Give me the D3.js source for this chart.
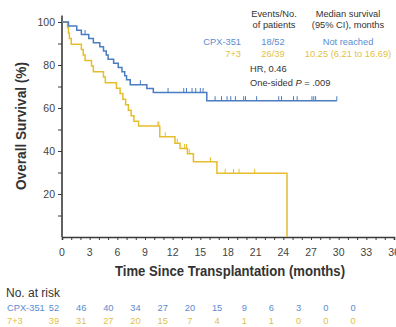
<!DOCTYPE html>
<html>
<head>
<meta charset="utf-8">
<script src="https://cdn.jsdelivr.net/npm/d3@7"></script>
<style>
  body { margin: 0; background: #fff; }
  svg text { font-family: "Liberation Sans", Arial, sans-serif; }
</style>
</head>
<body>
<div id="chart"></div>
<script>
//Colores
const COLOR_CPX = '#4a7cc2',
COLOR_73 = '#e6bd2a',
COLOR_TXT_CPX = '#5b8bd0',
COLOR_TXT_73 = '#e2bf45',
COLOR_AXIS = '#3a3a3a';

//Datos: curva CPX-351
let cpxTimes = [0, 0.7, 1.6, 2.1, 2.9, 3.4, 4.1, 4.5, 4.8, 5.0, 5.6, 6.1, 6.5, 6.8, 7.0, 7.4, 9.2, 9.9, 15.7];
let cpxSurv = [100, 98.1, 96.2, 94.2, 92.3, 90.4, 88.5, 86.5, 84.6, 82.7, 80.8, 78.8, 76.9, 75.0, 73.1, 70.8, 69.1, 67.2, 63.4];
let cpxEnd = 29.8;
let cpxCensor = [2.5, 8.5, 11.5, 13.2, 13.5, 14.1, 14.5, 15.0, 15.3, 16.6, 17.3, 17.9, 18.3, 18.8, 19.7, 19.9, 21.1, 23.5, 23.8, 25.1, 25.5, 27.1, 27.3, 27.5, 29.8];

//Datos: curva 7+3
let chemoTimes = [0, 0.6, 0.7, 0.8, 1.0, 2.1, 2.3, 2.5, 3.2, 3.4, 4.5, 4.7, 5.9, 6.3, 6.6, 6.9, 7.2, 7.5, 7.8, 8.3, 10.6, 12.25, 12.8, 13.6, 14.25, 16.8, 24.4];
let chemoSurv = [100, 97.4, 94.9, 92.3, 89.7, 87.2, 84.6, 82.1, 79.5, 76.9, 74.4, 71.8, 69.2, 66.7, 64.1, 61.5, 59.0, 56.4, 53.8, 51.6, 46.6, 43.6, 41.2, 38.7, 35.0, 29.6, 0];
let chemoEnd = 24.4;
let chemoCensor = [10.4, 10.5, 11.2, 12.5, 13.3, 13.5, 13.8, 16.1, 17.7, 18.6, 19.2, 20.9];

//Ejes
let xTicks = [0, 3, 6, 9, 12, 15, 18, 21, 24, 27, 30, 33, 36];
let yTicks = [20, 40, 60, 80, 100];

//Tabla de riesgo
let riskTimes = [0, 3, 6, 9, 12, 15, 18, 21, 24, 27, 30, 33];
let riskCpx = [52, 46, 40, 34, 27, 20, 15, 9, 6, 3, 0, 0];
let riskChemo = [39, 31, 27, 20, 15, 7, 4, 1, 1, 0, 0, 0];

//Leyenda
let legendHeader1 = ['Events/No.', 'of patients'];
let legendHeader2 = ['Median survival', '(95% CI), months'];
let legendRows = [
    {name: 'CPX-351', events: '18/52', median: 'Not reached', color: COLOR_TXT_CPX},
    {name: '7+3', events: '26/39', median: '10.25 (6.21 to 16.69)', color: COLOR_TXT_73}
];

let margin = {top: 22, right: 2, bottom: 90, left: 62};

let root = d3.select('#chart')
    .append('svg')
        .attr('width', 396)
        .attr('height', 327);

let svg = root.append('g')
    .attr('transform', 'translate(' + margin.left + ',' + margin.top + ')');

let x = d3.scaleLinear().domain([0, 36]).range([0, 332]);
let y = d3.scaleLinear().domain([0, 100]).range([215, 0]);

//Eje X
let xAxisG = svg.append('g')
    .attr('transform', 'translate(0,' + y(0) + ')');
xAxisG.call(d3.axisBottom(x).tickValues(d3.range(0, 37, 1)).tickSize(3).tickFormat(''));
xAxisG.select('.domain').attr('stroke', COLOR_AXIS).attr('stroke-width', 1.6);
xAxisG.selectAll('.tick line').attr('stroke', COLOR_AXIS).attr('stroke-width', 1);

xAxisG.selectAll('.xlab')
    .data(xTicks)
    .enter()
    .append('text')
    .attr('x', function(d) { return x(d); })
    .attr('y', 19)
    .attr('text-anchor', 'middle')
    .attr('font-size', 10.5)
    .attr('fill', '#444')
    .text(function(d) { return d; });

//Eje Y
let yAxisG = svg.append('g');
yAxisG.call(d3.axisLeft(y).tickValues(d3.range(10, 101, 10)).tickSize(4).tickFormat(''));
yAxisG.select('.domain').remove();
yAxisG.append('line')
    .attr('x1', 0).attr('x2', 0)
    .attr('y1', y(103)).attr('y2', y(0))
    .attr('stroke', COLOR_AXIS).attr('stroke-width', 1.6);
yAxisG.selectAll('.tick line').attr('stroke', COLOR_AXIS).attr('stroke-width', 1);

yAxisG.selectAll('.ylab')
    .data(yTicks)
    .enter()
    .append('text')
    .attr('x', -7)
    .attr('y', function(d) { return y(d) + 4; })
    .attr('text-anchor', 'end')
    .attr('font-size', 10.5)
    .attr('fill', '#444')
    .text(function(d) { return d; });

//Títulos de ejes
root.append('text')
    .attr('x', 230)
    .attr('y', 276)
    .attr('text-anchor', 'middle')
    .attr('font-size', 15)
    .attr('font-weight', 'bold')
    .attr('fill', '#333')
    .attr('textLength', 230)
    .attr('lengthAdjust', 'spacingAndGlyphs')
    .text('Time Since Transplantation (months)');

root.append('text')
    .attr('transform', 'translate(26,126) rotate(-90)')
    .attr('text-anchor', 'middle')
    .attr('font-size', 14)
    .attr('font-weight', 'bold')
    .attr('fill', '#333')
    .attr('textLength', 128)
    .attr('lengthAdjust', 'spacingAndGlyphs')
    .text('Overall Survival (%)');

//Curvas
function stepAt(times, surv, t) {
    let s = surv[0];
    for (let i = 0; i < times.length; i++) {
        if (times[i] <= t) { s = surv[i]; }
    }
    return s;
}

let line = d3.line()
    .x(function(d) { return x(d[0]); })
    .y(function(d) { return y(d[1]); })
    .curve(d3.curveStepAfter);

function drawCurve(times, surv, end, censor, color) {
    let pts = times.map(function(t, i) { return [t, surv[i]]; });
    if (end > times[times.length - 1]) { pts.push([end, surv[surv.length - 1]]); }

    svg.append('path')
        .datum(pts)
        .attr('fill', 'none')
        .attr('stroke', color)
        .attr('stroke-width', 1.5)
        .attr('d', line);

    svg.append('g')
        .selectAll('line')
        .data(censor)
        .enter()
        .append('line')
        .attr('x1', function(d) { return x(d); })
        .attr('x2', function(d) { return x(d); })
        .attr('y1', function(d) { return y(stepAt(times, surv, d)); })
        .attr('y2', function(d) { return y(stepAt(times, surv, d)) - 4.5; })
        .attr('stroke', color)
        .attr('stroke-width', 1);
}

drawCurve(chemoTimes, chemoSurv, chemoEnd, chemoCensor, COLOR_73);
drawCurve(cpxTimes, cpxSurv, cpxEnd, cpxCensor, COLOR_CPX);

//Leyenda
let leg = root.append('g').attr('font-size', 9.3);

leg.selectAll('.h1')
    .data(legendHeader1)
    .enter()
    .append('text')
    .attr('x', 274)
    .attr('y', function(d, i) { return 16.5 + i * 11; })
    .attr('text-anchor', 'middle')
    .attr('fill', '#333')
    .text(function(d) { return d; });

leg.selectAll('.h2')
    .data(legendHeader2)
    .enter()
    .append('text')
    .attr('x', 348)
    .attr('y', function(d, i) { return 16.5 + i * 11; })
    .attr('text-anchor', 'middle')
    .attr('fill', '#333')
    .text(function(d) { return d; });

let rows = leg.selectAll('.row')
    .data(legendRows)
    .enter()
    .append('g')
    .attr('transform', function(d, i) { return 'translate(0,' + (44.5 + i * 12.5) + ')'; });

rows.append('text').attr('x', 241).attr('text-anchor', 'end')
    .attr('fill', function(d) { return d.color; }).text(function(d) { return d.name; });
rows.append('text').attr('x', 273).attr('text-anchor', 'middle')
    .attr('fill', function(d) { return d.color; }).text(function(d) { return d.events; });
rows.append('text').attr('x', 348).attr('text-anchor', 'middle')
    .attr('fill', function(d) { return d.color; }).text(function(d) { return d.median; });

leg.append('text').attr('x', 250).attr('y', 72).attr('fill', '#333').text('HR, 0.46');
let pText = leg.append('text').attr('x', 250).attr('y', 86).attr('fill', '#333');
pText.append('tspan').text('One-sided ');
pText.append('tspan').attr('font-style', 'italic').text('P');
pText.append('tspan').text(' = .009');

//Tabla de riesgo
let xRisk = d3.scaleLinear().domain([0, 33]).range([54, 353]);

root.append('text')
    .attr('x', 6).attr('y', 297)
    .attr('font-size', 12)
    .attr('fill', '#333')
    .text('No. at risk');

let riskRows = [
    {name: 'CPX-351', vals: riskCpx, color: COLOR_TXT_CPX, y: 311},
    {name: '7+3', vals: riskChemo, color: COLOR_TXT_73, y: 324}
];

riskRows.forEach(function(r) {
    root.append('text')
        .attr('x', 7).attr('y', r.y)
        .attr('font-size', 9.3)
        .attr('fill', r.color)
        .text(r.name);

    root.append('g')
        .selectAll('text')
        .data(r.vals)
        .enter()
        .append('text')
        .attr('x', function(d, i) { return xRisk(riskTimes[i]); })
        .attr('y', r.y)
        .attr('text-anchor', 'middle')
        .attr('font-size', 9.3)
        .attr('fill', r.color)
        .text(function(d) { return d; });
});
</script>
</body>
</html>
